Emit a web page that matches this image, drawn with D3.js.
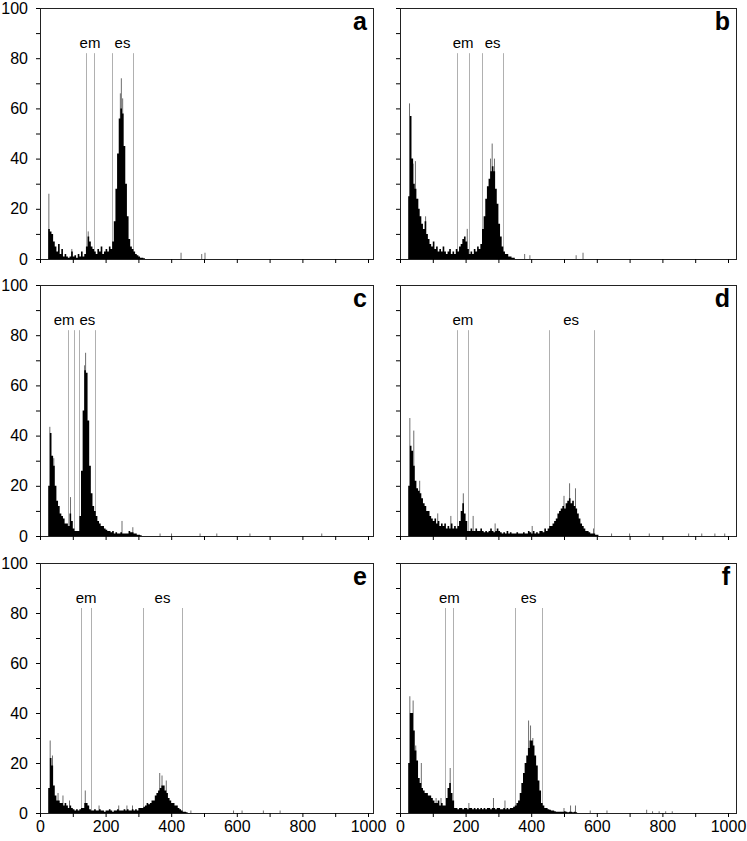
<!DOCTYPE html>
<html><head><meta charset="utf-8">
<script src="https://cdn.jsdelivr.net/npm/d3@7"></script>
<style>
body{margin:0;background:#fff}
svg{display:block}
text{font-family:"Liberation Sans",Arial,Helvetica,sans-serif;fill:#000}
</style>
</head><body>
<svg id="chart" width="747" height="841"></svg>
<script>
// ---------------- data ----------------
const panelLabels = ["a","b","c","d","e","f"];
const binStart = 25;   // channel of first bin
const binStep = 5;     // channels per bin
const xTickValues = [0,100,200,300,400,500,600,700,800,900,1000];
const xTickLabels = [0,200,400,600,800,1000];
const yTickValues = [0,10,20,30,40,50,60,70,80,90,100];
const yTickLabels = [0,20,40,60,80,100];
const gateTop = 82;

const valuesA = [12,11,10,7,5, 3,6,2,4,1, 2,1,0.5,1,3, 1,1.5,0.5,2,1, 3,1,2,5,9, 7,5,4,3,2, 4,3,5,2,3, 4,3,5,4,7,
  15,28,42,56,60, 58,45,30,17,8, 5,4,3,2,1.5, 1,0.5,0.5,0.3];
const valuesB = [25,57,40,30,28, 24,20,17,14,12, 15,10,8,6,5, 7,4,5,3,4, 3,5,3,2,3, 4,2,3,2,4, 3,5,6,8,9, 7,4,2,3,2,
  4,3,5,4,6, 12,17,24,29,32, 35,37,35,28,22, 14,9,5,3,2, 2,1,1,0.5,0.5];
const valuesC = [20,41,32,28,20, 14,12,9,8,7, 5,5,4,9,6, 3,2,2,2,8, 26,50,66,65,46, 28,17,12,10,8, 6,5,4,4,3,
  2.5,2,2,1.5,2, 1,1.5,1,1,1.5, 1,1,1,1,2, 1.5,1.5,1,1,0.5, 0.5,0.3];
const valuesD = [20,36,34,28,22, 19,18,17,15,13, 12,10,10,8,7, 6,7,5,6,4, 5,4,5,3,4, 3,5,3,4,3, 4,6,10,13,9,
  6,2,2,3,2, 2,3,2,2,3, 2,1.5,2,1.5,2, 3,2,1.5,2,3, 2,1.5,1,1.5,1, 2,1,1.5,1,1, 1,1.5,1,1,1,
  1.5,1,1,2,1.5, 1,2,1,1.5,1, 2,2,1.5,3,2, 3,4,4,5,6, 7,9,10,11,12, 11,13,14,15,13, 14,12,11,9,7,
  5,4,3,2,2, 1.5,1,1,1,0.5, 0.5];
const valuesE = [10,22,19,11,7, 5,5,4,4,3, 4,3,2,3,2, 1.5,1,1.5,1,1.5, 2,2,4,4,3, 1.5,1,1,1.5,1, 1,1.5,1,1,0.5,
  1,1,1.5,1,0.5, 1,1,1.5,1,1, 1,1.5,1,1.5,1, 1,1.5,1,1.5,1, 2,2,2,2.5,3, 4,3.5,4,5,5, 7,8,9,10,11,
  11,9,8,6,5, 4,4,3,3,2, 1.5,1,0.5,0.5,0.3];
const valuesF = [20,40,40,33,25, 21,14,12,10,9, 8,8,7,7,6, 5,4,4,5,3, 4,3,3,6,10, 12,8,5,2,2, 1.5,2,2,1.5,2,
  2,1.5,2,2,1.5, 2,1.5,2,1.5,2, 1.5,2,1.5,2,2, 1.5,2,2,1.5,2, 2,1.5,1.5,2,1.5, 2,1.5,2,2,2.5,
  3,4,5,8,12, 16,20,23,26,29, 29,27,23,19,13, 9,4,3,2,2, 1.5,1.3,1,1,0.7, 0.5,0.5,0.5,0.5,0.5,
  0.7,0.5,0.3,0.5,0.5, 0.3,0.5,0.3];

// thin single-channel spikes [channel, value]
const spikesA = [[27,26],[147,11],[97,4],[245,66],[248,72],[252,64],[430,2.5],[493,2],[503,2.5]];
const spikesB = [[29,62],[40,38],[47,39],[55,24],[78,17],[205,12],[276,40],[281,46],[288,40],[380,2],[396,1.5],[537,1.5],[558,2.5]];
const spikesC = [[30,43.5],[42,31],[93,15.5],[136,68],[139,73],[250,6],[283,3.5],[366,1],[401,1],[488,1],[539,1],[640,1],[859,1]];
const spikesD = [[30,47],[42,42],[60,22],[115,9],[155,8],[193,17],[223,8],[290,5],[403,4],[500,16],[517,21],[535,19],
  [590,3],[645,1],[700,1],[760,1],[880,1],[920,1],[960,1],[990,1]];
const spikesE = [[31,29],[38,23],[55,8],[70,7],[90,5],[138,9],[180,3],[240,3],[265,3],[282,3],[365,16],[372,15],[385,13],
  [460,1],[590,1],[616,1],[681,1],[732,1]];
const spikesF = [[30,46.7],[40,45],[48,27],[65,20],[110,6],[125,6],[153,18],[210,4],[285,6],[320,5],[392,37],[398,35],[405,30],
  [500,2],[520,3],[535,3],[580,1],[631,1],[752,1.3],[770,0.7],[790,0.7],[810,0.7],[830,0.7]];

const emGates = [[139,166],[175,210],[84,104],[175,208],[126,155],[138,163]];
const esGates = [[218,285],[251,314],[120,169],[453,591],[313,434],[352,432]];

const panelValues = [valuesA,valuesB,valuesC,valuesD,valuesE,valuesF];
const panelSpikes = [spikesA,spikesB,spikesC,spikesD,spikesE,spikesF];

// ---------------- layout ----------------
const cols = [{x0:40, x1000:368, right:373},{x0:400, x1000:728, right:736}];
const rows = [{top:8, zero:259},{top:285, zero:536},{top:563, zero:813}];

const svg = d3.select("#chart");

panelLabels.forEach((lab, i) => {
  const col = cols[i % 2], row = rows[Math.floor(i / 2)];
  const isLeft = (i % 2) === 0, isBottom = Math.floor(i / 2) === 2;
  const x = d3.scaleLinear().domain([0,1000]).range([col.x0, col.x1000]);
  const y = d3.scaleLinear().domain([0,100]).range([row.zero, row.top]);
  const g = svg.append("g");

  // gate lines
  const gates = [emGates[i], esGates[i]];
  gates.forEach(pair => pair.forEach(v => {
    g.append("line")
      .attr("x1", Math.round(x(v)) + 0.5).attr("x2", Math.round(x(v)) + 0.5)
      .attr("y1", y(gateTop)).attr("y2", row.zero)
      .attr("stroke", "#b0b0b0").attr("stroke-width", 1);
  }));

  // thin spikes (grey)
  g.selectAll("rect.sp").data(panelSpikes[i]).enter().append("rect")
    .attr("class","sp")
    .attr("x", d => x(d[0]) - 0.5).attr("width", 1)
    .attr("y", d => y(d[1])).attr("height", d => row.zero - y(d[1]))
    .attr("fill", "#6e6e6e");

  // histogram bins (black), drawn as one stepped area to avoid seams
  const vals = panelValues[i];
  const pts = vals.map((v, k) => [binStart + k * binStep, v]);
  pts.push([binStart + vals.length * binStep, 0]);
  const area = d3.area()
    .x(d => x(d[0])).y0(row.zero).y1(d => y(d[1]))
    .curve(d3.curveStepAfter);
  g.append("path").attr("d", area(pts)).attr("fill", "#000");

  // box
  g.append("rect")
    .attr("x", col.x0 + 0.5).attr("y", row.top + 0.5)
    .attr("width", col.right - col.x0).attr("height", row.zero - row.top)
    .attr("fill", "none").attr("stroke", "#222").attr("stroke-width", 1);

  // y axis
  const ya = g.append("g").attr("transform", `translate(${col.x0},0)`)
    .call(d3.axisLeft(y).tickValues(yTickValues).tickSize(4).tickSizeOuter(0).tickPadding(8)
      .tickFormat(d => (isLeft && yTickLabels.includes(d)) ? d : ""));
  ya.select(".domain").remove();
  ya.selectAll("text").attr("font-size", 16).attr("font-family", "Liberation Sans, Arial, sans-serif").attr("fill", "#000");

  // x axis
  const xa = g.append("g").attr("transform", `translate(0,${row.zero})`)
    .call(d3.axisBottom(x).tickValues(xTickValues).tickSize(4).tickSizeOuter(0).tickPadding(3.5)
      .tickFormat(d => (isBottom && xTickLabels.includes(d)) ? d : ""));
  xa.select(".domain").remove();
  xa.selectAll("text").attr("font-size", 16).attr("font-family", "Liberation Sans, Arial, sans-serif").attr("fill", "#000");

  // gate labels
  const labY = row.top + 39.5;
  const em = g.append("text").text("em").attr("font-size", 15).attr("text-anchor", "middle")
    .attr("x", x((emGates[i][0] + emGates[i][1]) / 2)).attr("y", labY);
  const es = g.append("text").text("es").attr("font-size", 15).attr("text-anchor", "middle")
    .attr("x", x((esGates[i][0] + esGates[i][1]) / 2)).attr("y", labY);
  const eb = em.node().getBBox(), sb = es.node().getBBox();
  const gap = 5;
  if (eb.x + eb.width + gap > sb.x) {
    const shift = eb.x + eb.width + gap - sb.x;
    em.attr("x", +em.attr("x") - shift);
  }

  // panel letter
  g.append("text").text(lab).attr("font-size", 25).attr("font-weight", "bold")
    .attr("text-anchor", "end").attr("x", col.right - 6).attr("y", row.top + 22);
});
</script>
</body></html>
